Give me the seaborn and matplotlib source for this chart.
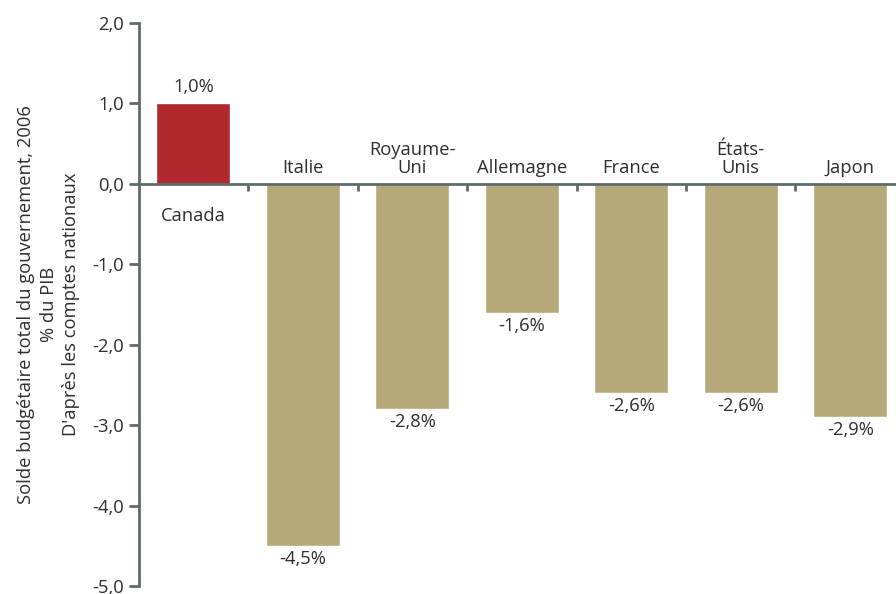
import matplotlib
matplotlib.use("Agg")
import matplotlib.pyplot as plt
import seaborn as sns
import pandas as pd

# Government budget balance, 2006, % of GDP
pays = ["Canada", "Italie", "Royaume-\nUni", "Allemagne", "France", "États-\nUnis", "Japon"]
solde = [1.0, -4.5, -2.8, -1.6, -2.6, -2.6, -2.9]
couleurs = ["#B0282C", "#B5A97A", "#B5A97A", "#B5A97A", "#B5A97A", "#B5A97A", "#B5A97A"]
graduations_y = [2.0, 1.0, 0.0, -1.0, -2.0, -3.0, -4.0, -5.0]

sns.set_theme(style="white")
plt.rcParams["font.family"] = ["Open Sans", "DejaVu Sans"]

txt = "#2e2e2e"
axe = "#5f6b6b"
fs = 13.2

df = pd.DataFrame({"pays": pays, "solde": solde})

fig = plt.figure(figsize=(8.96, 5.94), dpi=100)
ax = fig.add_axes([0.1555, 0.0131, 0.8445, 0.9487])

sns.barplot(data=df, x="pays", y="solde", hue="pays", palette=couleurs,
            legend=False, width=0.676, saturation=1, ax=ax)

ax.set_xlim(-0.493, 6.418)
ax.set_ylim(-5, 2)

# Axes: left spine + horizontal axis at zero
for s in ["top", "right"]:
    ax.spines[s].set_visible(False)
ax.spines["left"].set_color(axe)
ax.spines["left"].set_linewidth(2)
ax.spines["bottom"].set_position(("data", 0))
ax.spines["bottom"].set_color(axe)
ax.spines["bottom"].set_linewidth(2)

ax.set_yticks(graduations_y)
ax.set_yticklabels([f"{v:.1f}".replace(".", ",") for v in graduations_y])
ax.tick_params(axis="y", direction="out", length=7, width=2, color=axe,
               labelsize=fs, labelcolor=txt, pad=4, left=True)

# category boundary ticks on the zero line
ax.set_xticks([i + 0.5 for i in range(len(pays) - 1)])
ax.set_xticklabels([])
ax.tick_params(axis="x", direction="out", length=5, width=2, color=axe, bottom=True)

ax.set_xlabel("")
ax.set_ylabel("Solde budgétaire total du gouvernement, 2006\n% du PIB\nD'après les comptes nationaux",
              fontsize=fs, color=txt, labelpad=9, linespacing=1.3)

for i, (p, v) in enumerate(zip(pays, solde)):
    lab = f"{v:.1f}".replace(".", ",") + "%"
    if v >= 0:
        ax.annotate(lab, (i, v), xytext=(0, 5), textcoords="offset points",
                    ha="center", va="bottom", fontsize=fs, color=txt)
        ax.annotate(p, (i, 0), xytext=(0, -17), textcoords="offset points",
                    ha="center", va="top", fontsize=fs, color=txt)
    else:
        ax.annotate(lab, (i, v), xytext=(0, -3), textcoords="offset points",
                    ha="center", va="top", fontsize=fs, color=txt)
        ax.annotate(p, (i, 0), xytext=(0, 5), textcoords="offset points",
                    ha="center", va="bottom", fontsize=fs, color=txt,
                    linespacing=1.0)

fig.savefig("out.png", dpi=100)
